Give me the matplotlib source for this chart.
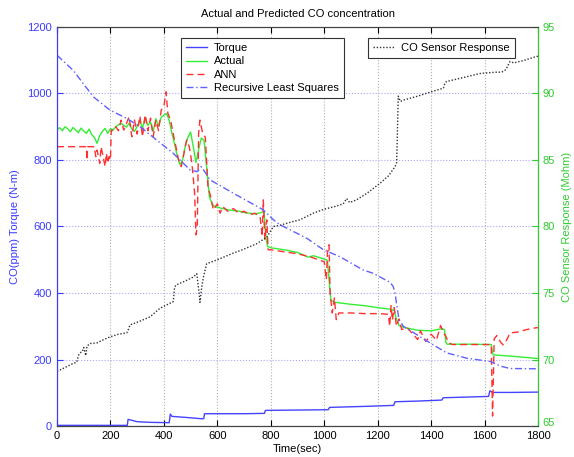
import matplotlib
matplotlib.use("Agg")
import matplotlib.pyplot as plt
import matplotlib.transforms as mtransforms

plt.rcParams['font.family'] = ['Liberation Sans', 'DejaVu Sans']

# torque (left axis, N-m)
t_torque = [0, 263, 266, 300, 350, 420, 424, 430, 480, 540, 549, 552, 700, 776, 780, 900,
            1015, 1020, 1150, 1260, 1265, 1350, 1440, 1445, 1615, 1620, 1630, 1700, 1800]
torque = [2, 2, 20, 13, 11, 10, 36, 29, 26, 22, 22, 37, 37, 38, 47, 48,
          49, 56, 59, 62, 73, 75, 78, 85, 89, 106, 101, 101, 102]

# measured CO (ppm)
t_actual = [0, 10, 20, 30, 40, 50, 60, 70, 80, 90, 100, 110, 120, 130, 140, 150, 160, 170, 180, 190,
            200, 210, 220, 230, 240, 250, 260, 270, 280, 290, 300, 310, 320, 330, 340, 350, 360, 370,
            380, 390, 400, 410, 420, 430, 440, 450, 460, 470, 480, 490, 500, 510, 520, 530, 540, 550,
            560, 570, 580, 590, 600, 620, 640, 660, 680, 700, 720, 740, 760, 775, 782, 788, 800, 850,
            900, 940, 960, 1000, 1012, 1018, 1025, 1040, 1100, 1150, 1200, 1250, 1262, 1270, 1280,
            1300, 1350, 1400, 1440, 1450, 1455, 1460, 1550, 1625, 1632, 1700, 1800]
actual = [892, 897, 888, 900, 894, 885, 898, 890, 882, 896, 887, 880, 893, 876, 868, 850, 874, 886, 895, 880,
          894, 890, 900, 906, 910, 904, 899, 910, 893, 886, 901, 918, 896, 928, 904, 914, 886, 924,
          902, 928, 935, 940, 918, 880, 848, 812, 786, 800, 842, 868, 884, 840, 792, 832, 866, 860,
          778, 690, 668, 660, 658, 654, 650, 648, 646, 642, 640, 638, 641, 645, 565, 540, 536, 530,
          522, 508, 512, 502, 498, 440, 378, 372, 366, 362, 356, 351, 347, 322, 302,
          296, 288, 286, 293, 290, 252, 246, 246, 245, 214, 210, 203]

# ANN prediction (ppm)
t_ann = [0, 110, 112, 115, 140, 145, 150, 160, 165, 175, 180, 185, 190, 195, 200, 203, 210, 220,
         230, 240, 250, 260, 270, 280, 290, 300, 310, 320, 330, 340, 350, 360, 370, 380, 390, 400,
         408, 415, 425, 435, 445, 455, 465, 475, 485, 495, 505, 515, 520, 525, 530, 535, 545, 555,
         565, 575, 585, 600, 610, 620, 640, 660, 680, 700, 720, 740, 760, 768, 772, 778, 785, 790,
         800, 850, 900, 950, 1000, 1008, 1012, 1018, 1022, 1030, 1038, 1045, 1055, 1100, 1150, 1200,
         1240, 1245, 1250, 1255, 1262, 1270, 1280, 1290, 1310, 1330, 1350, 1360, 1380, 1400, 1420,
         1435, 1445, 1455, 1465, 1480, 1625, 1630, 1636, 1646, 1660, 1670, 1685, 1695, 1720, 1740,
         1758, 1780, 1800]
ann = [840, 840, 800, 840, 840, 810, 830, 790, 840, 800, 780, 820, 790, 810, 800, 890, 888, 900,
       888, 920, 890, 910, 930, 870, 920, 878, 932, 870, 936, 888, 926, 870, 920, 888, 950, 962,
       1005, 940, 920, 878, 840, 800, 780, 820, 860, 840, 790, 700, 575, 600, 880, 920, 880, 868,
       720, 690, 650, 668, 640, 660, 645, 654, 640, 646, 635, 640, 630, 570, 680, 560, 620, 530,
       530, 524, 518, 508, 494, 440, 520, 545, 400, 340, 385, 320, 340, 340, 338, 338,
       336, 300, 362, 318, 356, 300, 322, 290, 296, 278, 260, 286, 254, 276, 258,
       302, 284, 270, 250, 245, 245, 30, 262, 272, 252, 244, 262, 280, 282, 286,
       290, 294, 296]

# recursive least squares prediction (ppm)
t_rls = [0, 60, 136, 198, 261, 311, 373, 435, 498, 525, 540, 573, 660, 772, 810, 835, 934, 997,
         1059, 1146, 1184, 1246, 1258, 1266, 1272, 1280, 1296, 1396, 1458, 1533, 1621, 1660, 1695, 1800]
rls = [1115, 1070, 990, 950, 925, 900, 860, 820, 770, 765, 780, 740, 700, 650, 620, 605, 565, 530,
       509, 469, 459, 432, 420, 395, 360, 320, 300, 250, 220, 204, 194, 180, 173, 172]

# CO sensor response (right axis, Mohm)
t_co = [0, 30, 60, 74, 80, 86, 95, 100, 108, 112, 123, 150, 175, 198, 230, 261, 268, 273, 300, 348,
        385, 420, 435, 440, 445, 480, 510, 523, 530, 535, 542, 548, 560, 600, 660, 700, 747, 785, 810,
        835, 870, 909, 959, 1000, 1040, 1071, 1084, 1095, 1121, 1160, 1209, 1240, 1265, 1271, 1275,
        1277, 1285, 1296, 1350, 1396, 1446, 1452, 1458, 1500, 1583, 1640, 1664, 1680, 1695, 1710,
        1750, 1789, 1800]
co = [69.1, 69.4, 69.7, 69.8, 70.3, 70.5, 70.6, 70.9, 70.3, 71.0, 71.2, 71.25, 71.5, 71.7, 71.9, 72.0,
      72.3, 72.6, 72.8, 73.2, 73.85, 74.2, 74.35, 75.4, 75.6, 75.9, 76.2, 76.45, 75.3, 74.3, 75.5, 76.2,
      77.2, 77.5, 78.0, 78.3, 78.7, 79.2, 80.0, 80.1, 80.3, 80.5, 81.0, 81.3, 81.5, 81.7, 82.1, 81.8,
      82.0, 82.5, 83.25, 83.8, 84.5, 84.8, 88.0, 89.8, 89.4, 89.5, 89.8, 90.1, 90.4, 90.8, 90.9, 91.1,
      91.5, 91.6, 91.6, 91.8, 92.4, 92.3, 92.5, 92.75, 92.8]

blue = "#3a3aff"
green = "#2fcc2f"
fs = 8

fig, ax = plt.subplots(figsize=(5.74, 4.57), dpi=100)
fig.subplots_adjust(left=0.0993, right=0.9373, bottom=0.0678, top=0.941)
ax2 = ax.twinx()

l1, = ax.plot(t_torque, torque, color="#4444ff", lw=1.0, label="Torque")
l2, = ax.plot(t_actual, actual, color="#33ee33", lw=1.0, label="Actual")
l3, = ax.plot(t_ann, ann, color="#ff3030", lw=1.0, ls=(0, (5, 3)), label="ANN")
l4, = ax.plot(t_rls, rls, color="#6060ff", lw=1.0, ls=(0, (5, 2, 1, 2)), label="Recursive Least Squares")
l5, = ax2.plot(t_co, co, color="#333333", lw=1.0, ls=(0, (1, 1.3)), label="CO Sensor Response")

ax.set_xlim(0, 1800)
ax.set_ylim(0, 1200)
ax.set_xticks(range(0, 1801, 200))
ax.set_yticks(range(0, 1201, 200))
ax2.set_ylim(65, 95)
ax2.set_yticks(range(65, 96, 5))

ax.grid(True, axis="x", color="#b0b0b0", ls=":", lw=0.8)
ax.grid(True, axis="y", color="#a8a8ff", ls=":", lw=0.8)

ax.tick_params(axis="x", direction="in", top=True, labelsize=fs, colors="black", length=4)
ax.tick_params(axis="y", direction="in", labelsize=fs, colors=blue, length=4)
ax2.tick_params(axis="y", direction="in", labelsize=fs, colors=green, length=4)
for a in (ax, ax2):
    a.spines["left"].set_color(blue)
    a.spines["right"].set_color(green)
    a.spines["top"].set_color("#444444")
    a.spines["bottom"].set_color("#444444")
    for s in a.spines.values():
        s.set_linewidth(0.8)

# lift the bottom right tick label a little so it clears "1800"
fig.canvas.draw()
lab65 = ax2.get_yticklabels()[0]
lab65.set_transform(lab65.get_transform() + mtransforms.ScaledTranslation(0, 3 / 72, fig.dpi_scale_trans))

ax.set_title("Actual and Predicted CO concentration", fontsize=fs, pad=7)
ax.set_xlabel("Time(sec)", fontsize=fs, labelpad=2)
ax.set_ylabel("CO(ppm) Torque (N-m)", fontsize=fs, color=blue, labelpad=5)
ax2.set_ylabel("CO Sensor Response (Mohm)", fontsize=fs, color=green, labelpad=5)

leg_kw = dict(loc="upper left", fontsize=fs, frameon=True, fancybox=False, edgecolor="#333333",
              framealpha=1, borderpad=0.45, handlelength=1.9, handletextpad=0.6, borderaxespad=0)
leg1 = ax2.legend(handles=[l1, l2, l3, l4], bbox_to_anchor=(0.258, 0.972), labelspacing=0.3, **leg_kw)
leg1.get_frame().set_linewidth(0.8)
ax2.add_artist(leg1)
leg2 = ax2.legend(handles=[l5], bbox_to_anchor=(0.647, 0.972), **leg_kw)
leg2.get_frame().set_linewidth(0.8)

plt.savefig("out.png", dpi=100)
